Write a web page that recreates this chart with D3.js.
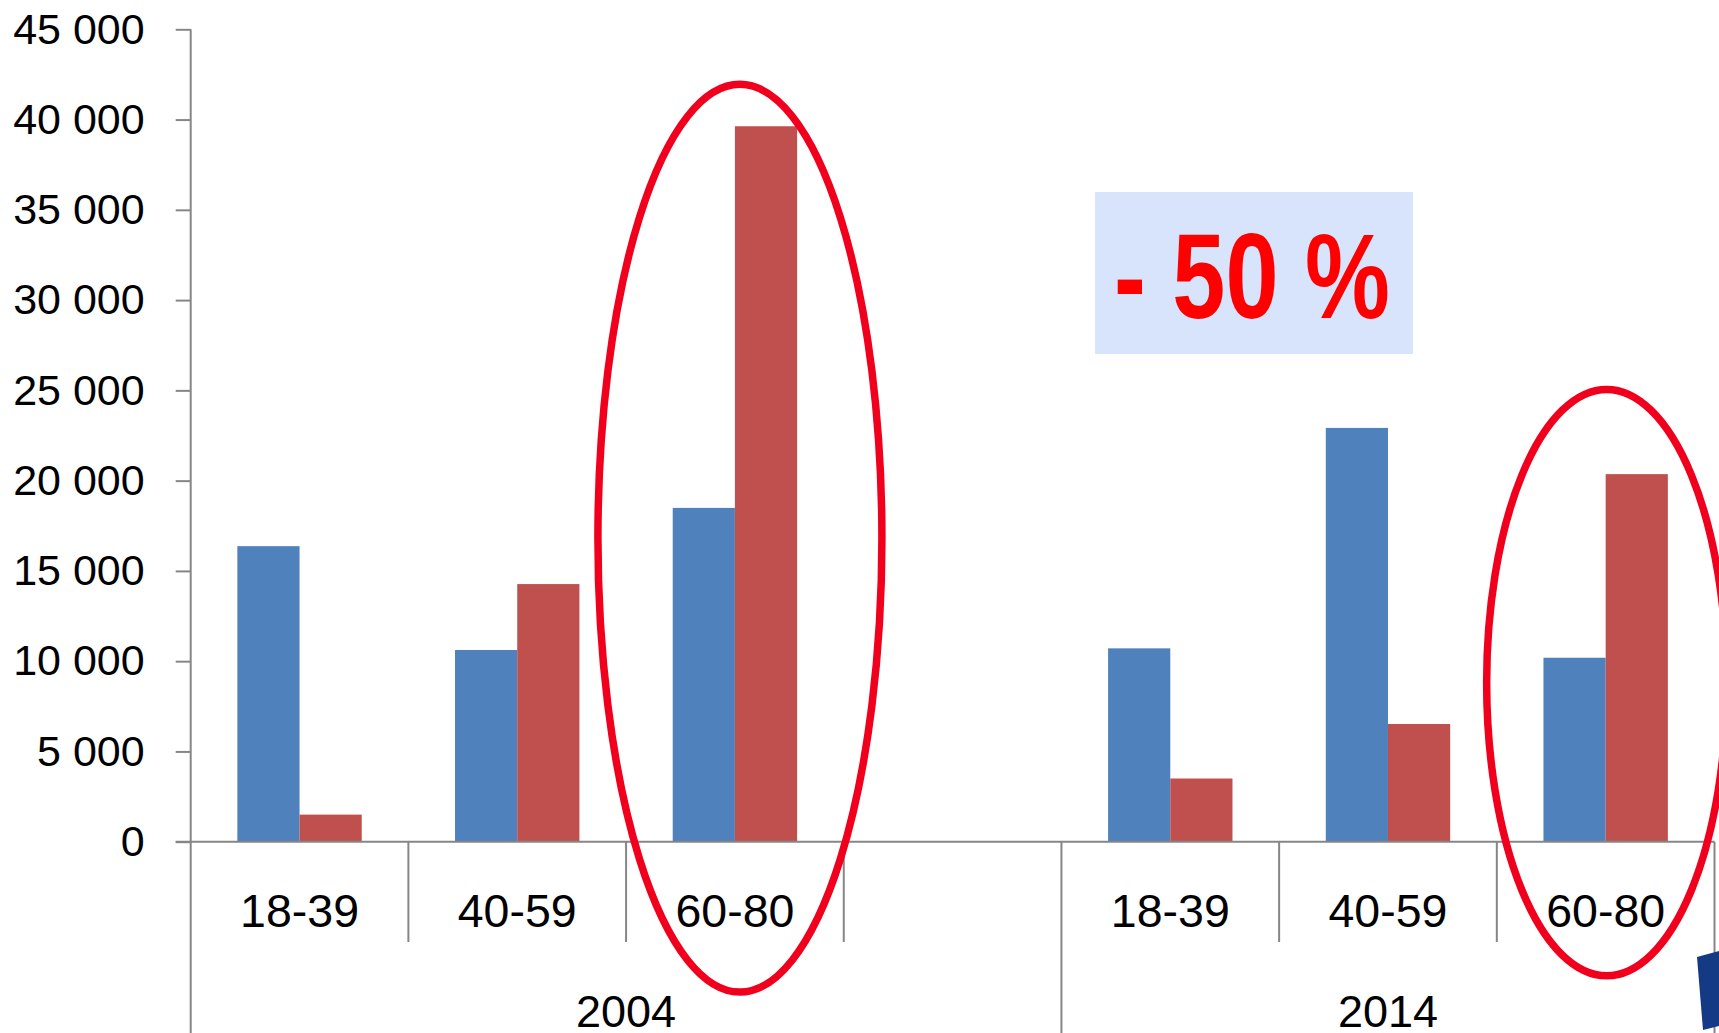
<!DOCTYPE html>
<html>
<head>
<meta charset="utf-8">
<script src="https://cdn.jsdelivr.net/npm/d3@7"></script>
<style>
  body { margin: 0; background: #fff; }
  svg { display: block; }
  .tick text { font-family: "Liberation Sans", Arial, sans-serif; fill: #000; }
</style>
</head>
<body>
<svg id="chart" width="1719" height="1033"></svg>
<script>
// slots along the x axis (2004 has an empty fourth slot)
var slotYears = ['2004', '2004', '2004', '2004', '2014', '2014', '2014'];
var slotCats = ['18-39', '40-59', '60-80', '', '18-39', '40-59', '60-80'];
var years = ['2004', '2014'];

// values
var blueValues = [16370, 10620, 18490, null, 10710, 22920, 10190];
var redValues = [1500, 14270, 39630, null, 3500, 6520, 20360];
var seriesNames = ['blue', 'red'];
var seriesColors = ['#4F81BD', '#C0504D'];

var yTicks = [0, 5000, 10000, 15000, 20000, 25000, 30000, 35000, 40000, 45000];

(function() {
    var svg = d3.select('#chart'),
        H = 1033,
        plotLeft = 190.7, plotRight = 1714.5,
        plotTop = 29.3, plotBottom = 841.7;

    var locale = d3.formatLocale({decimal: ',', thousands: ' ', grouping: [3], currency: ['', '']}),
        fmt = locale.format(',');

    var x = d3.scaleBand().domain(d3.range(slotCats.length)).range([plotLeft, plotRight]).padding(0),
        xs = d3.scaleBand().domain(seriesNames).range([0, x.bandwidth()]).paddingInner(0).paddingOuter(0.75),
        y = d3.scaleLinear().domain([0, 45000]).range([plotBottom, plotTop]);

    var axisColor = '#868686';

    // y axis
    var yAxis = svg.append('g')
        .attr('transform', 'translate(' + plotLeft + ',0)')
        .call(d3.axisLeft(y).tickValues(yTicks).tickFormat(fmt).tickSize(15).tickPadding(31));
    yAxis.select('.domain').remove();
    yAxis.selectAll('.tick line').attr('stroke', axisColor).attr('stroke-width', 2);
    yAxis.selectAll('.tick text').style('font-size', '43px');

    svg.append('line')
        .attr('x1', plotLeft).attr('x2', plotLeft).attr('y1', plotTop).attr('y2', H)
        .attr('stroke', axisColor).attr('stroke-width', 2);

    // bars
    var rows = slotCats.map(function(c, i) {
        return {i: i, values: [blueValues[i], redValues[i]]};
    });
    var slotG = svg.append('g').selectAll('g').data(rows).enter().append('g')
        .attr('transform', function(d) { return 'translate(' + x(d.i) + ',0)'; });
    slotG.selectAll('rect')
        .data(function(d) {
            return d.values.map(function(v, k) { return {name: seriesNames[k], value: v, color: seriesColors[k]}; })
                .filter(function(e) { return e.value != null; });
        })
        .enter().append('rect')
        .attr('x', function(d) { return xs(d.name); })
        .attr('width', xs.bandwidth())
        .attr('y', function(d) { return y(d.value); })
        .attr('height', function(d) { return y(0) - y(d.value); })
        .attr('fill', function(d) { return d.color; });

    // x axis line
    svg.append('line')
        .attr('x1', plotLeft - 15).attr('x2', plotRight).attr('y1', plotBottom).attr('y2', plotBottom)
        .attr('stroke', axisColor).attr('stroke-width', 2);

    // separators: short between categories, long between years
    d3.range(1, slotCats.length + 1).forEach(function(i) {
        var xx = i < slotCats.length ? x(i) : plotRight,
            isGroupEdge = i === slotCats.length || slotYears[i] !== slotYears[i - 1];
        svg.append('line')
            .attr('x1', xx).attr('x2', xx)
            .attr('y1', plotBottom).attr('y2', isGroupEdge ? H : 942)
            .attr('stroke', axisColor).attr('stroke-width', 2);
    });

    // category labels
    svg.append('g').selectAll('text').data(slotCats).enter().append('text')
        .attr('x', function(d, i) { return x(i) + x.bandwidth() / 2; })
        .attr('y', 926.5)
        .attr('text-anchor', 'middle')
        .style('font-family', '"Liberation Sans", Arial, sans-serif')
        .style('font-size', '46.5px')
        .text(function(d) { return d; });

    // year labels
    svg.append('g').selectAll('text').data(years).enter().append('text')
        .attr('x', function(yr) {
            var idx = slotYears.map(function(s, i) { return s === yr ? i : -1; }).filter(function(i) { return i >= 0; });
            var x0 = x(idx[0]), x1 = x(idx[idx.length - 1]) + x.bandwidth();
            return (x0 + x1) / 2;
        })
        .attr('y', 1026.5)
        .attr('text-anchor', 'middle')
        .style('font-family', '"Liberation Sans", Arial, sans-serif')
        .style('font-size', '45px')
        .text(function(d) { return d; });

    // annotation box
    svg.append('rect')
        .attr('x', 1095).attr('y', 192).attr('width', 318).attr('height', 162)
        .attr('fill', '#D7E4FB');
    svg.append('text')
        .attr('x', 1114).attr('y', 318)
        .attr('textLength', 276).attr('lengthAdjust', 'spacingAndGlyphs')
        .style('font-family', '"Liberation Sans", Arial, sans-serif')
        .style('font-weight', 'bold')
        .style('font-size', '121px')
        .attr('fill', '#FF0000')
        .text('- 50 %');

    // ellipses round the 60-80 groups
    var ellipses = [
        {slot: 2, dx: 5, top: 41950, bottom: -8330, rx: 142},
        {slot: 6, dx: 1, top: 25050, bottom: -7430, rx: 120}
    ];
    svg.append('g').selectAll('ellipse').data(ellipses).enter().append('ellipse')
        .attr('cx', function(d) { return x(d.slot) + x.bandwidth() / 2 + d.dx; })
        .attr('cy', function(d) { return (y(d.top) + y(d.bottom)) / 2; })
        .attr('rx', function(d) { return d.rx; })
        .attr('ry', function(d) { return (y(d.bottom) - y(d.top)) / 2; })
        .attr('fill', 'none')
        .attr('stroke', '#F0001C')
        .attr('stroke-width', 7.5);

    // corner of a logo sticking in at bottom right
    svg.append('polygon')
        .attr('points', '1697,957 1719,951 1719,1026 1703,1030')
        .attr('fill', '#153A85');
})();
</script>
</body>
</html>
